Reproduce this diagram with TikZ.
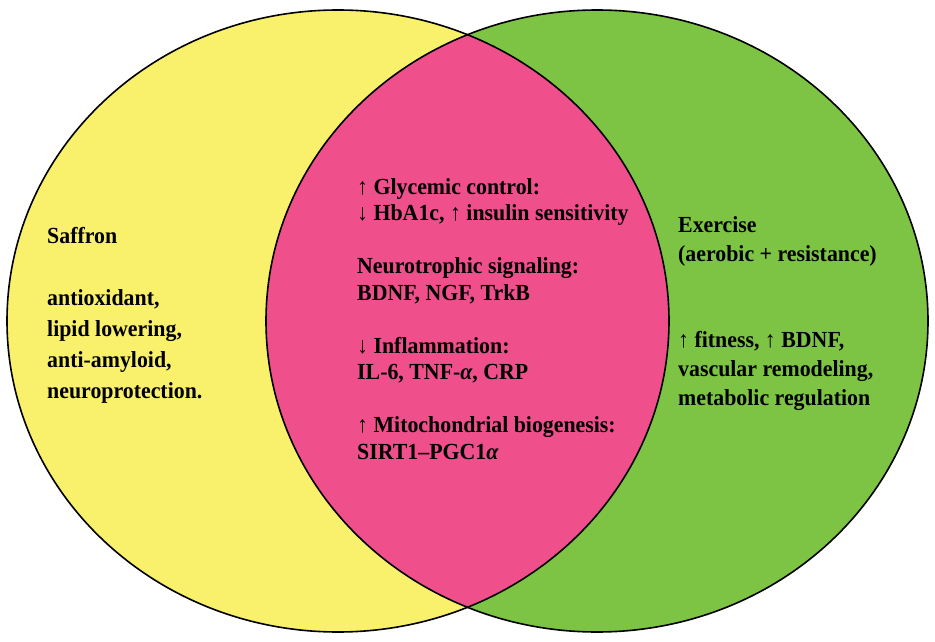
\documentclass[tikz,border=0pt]{standalone}
\usepackage{fontspec}
\setmainfont{Liberation Serif}
\newfontfamily\vennfont[FakeStretch=0.95]{Liberation Serif}
\definecolor{yellowc}{RGB}{249,240,108}
\definecolor{greenc}{RGB}{125,195,68}
\definecolor{pinkc}{RGB}{239,80,140}
\tikzset{
  venntxt/.style={inner sep=0pt, anchor=base west, align=left, font=\vennfont\bfseries\fontsize{23}{#1}\selectfont},
  outline/.style={draw=black, line width=1.6pt}
}
\begin{document}
\begin{tikzpicture}[x=1pt,y=-1pt]
\useasboundingbox (0,0) rectangle (935,642);
\coordinate (cl) at (338,321);
\coordinate (cr) at (597,321);
\fill[yellowc] (cl) ellipse [x radius=331, y radius=311];
\fill[greenc] (cr) ellipse [x radius=331, y radius=311];
\begin{scope}
  \clip (cl) ellipse [x radius=331, y radius=311];
  \fill[pinkc] (cr) ellipse [x radius=331, y radius=311];
\end{scope}
\draw[outline] (cl) ellipse [x radius=331, y radius=311];
\draw[outline] (cr) ellipse [x radius=331, y radius=311];

\node[venntxt=31] (saffron) at (47,398) {Saffron\\[31pt]antioxidant,\\lipid lowering,\\anti-amyloid,\\neuroprotection.};
\node[venntxt=26.5] (both) at (357,459) {↑ Glycemic control:\\↓ HbA1c, ↑ insulin sensitivity\\[26.5pt]Neurotrophic signaling:\\BDNF, NGF, TrkB\\[26.5pt]↓ Inflammation:\\IL-6, TNF-\textit{α}, CRP\\[26.5pt]↑ Mitochondrial biogenesis:\\SIRT1–PGC1\textit{α}};
\node[venntxt=28.7] (exercise) at (678,405) {Exercise\\(aerobic + resistance)\\[57.4pt]↑ fitness, ↑ BDNF,\\vascular remodeling,\\metabolic regulation};
\end{tikzpicture}
\end{document}
